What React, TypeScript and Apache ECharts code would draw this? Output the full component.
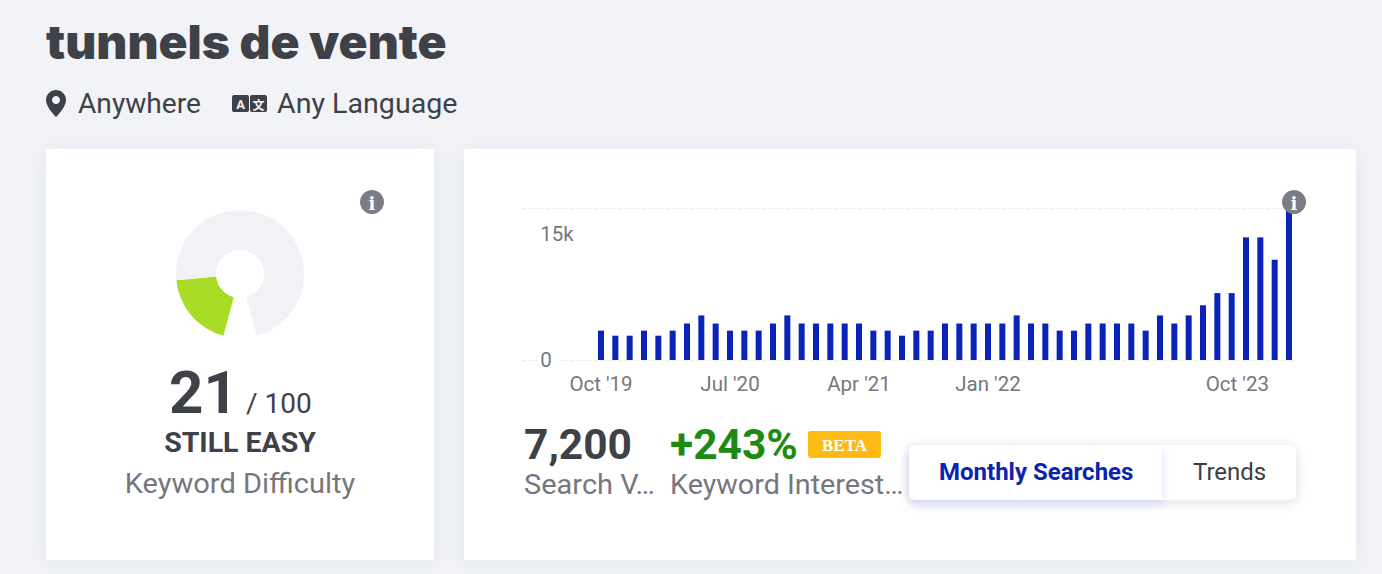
import React, { useEffect, useRef } from "react";
import * as echarts from "echarts";

const months = [
  "Oct '19","Nov '19","Dec '19","Jan '20","Feb '20","Mar '20","Apr '20","May '20","Jun '20","Jul '20","Aug '20","Sep '20",
  "Oct '20","Nov '20","Dec '20","Jan '21","Feb '21","Mar '21","Apr '21","May '21","Jun '21","Jul '21","Aug '21","Sep '21",
  "Oct '21","Nov '21","Dec '21","Jan '22","Feb '22","Mar '22","Apr '22","May '22","Jun '22","Jul '22","Aug '22","Sep '22",
  "Oct '22","Nov '22","Dec '22","Jan '23","Feb '23","Mar '23","Apr '23","May '23","Jun '23","Jul '23","Aug '23","Sep '23",
  "Oct '23",
];
const searches = [
  2900,2400,2400,2900,2400,2900,3600,4400,3600,2900,2900,2900,
  3600,4400,3600,3600,3600,3600,3600,2900,2900,2400,2900,2900,
  3600,3600,3600,3600,3600,4400,3600,3600,2900,2900,3600,3600,
  3600,3600,2900,4400,3600,4400,5400,6600,6600,12100,12100,9900,
  14800,
];
const labelledMonths = ["Oct '19", "Jul '20", "Apr '21", "Jan '22", "Oct '23"];
const leadingBlankBands = 5;
const difficulty = 21;
const difficultyMax = 100;
const DARK = "#3f4148";
const GREY = "#76777d";
const BLUE = "#0a23b9";
const SANS = "Roboto";
const AXIS_FONT = 20.5;

echarts.graphic.registerShape(
  "pinMark",
  echarts.graphic.extendPath(
    "M10 0C4.5 0 0 4.5 0 10C0 17.5 10 27 10 27C10 27 20 17.5 20 10C20 4.5 15.5 0 10 0Z",
    {}
  )
);

const txt = (
  text: string,
  x: number,
  y: number,
  fontSize: number,
  fill: string,
  fontWeight: any = 400,
  textAlign: string = "left",
  fontFamily: string = SANS,
  scaleX: number = 1
) => ({
  type: "text",
  x,
  y,
  scaleX,
  z: 50,
  silent: true,
  style: { text, fontSize, fill, fontWeight, fontFamily, textAlign, textVerticalAlign: "middle", verticalAlign: "middle" },
});

const infoIcon = (x: number, y: number) => [
  { type: "circle", z: 60, silent: true, shape: { cx: x, cy: y, r: 12 }, style: { fill: "#7b7c84" } },
  { ...txt("i", x, y + 1, 18, "#ffffff", 700, "center", "DejaVu Serif"), z: 61 },
];

const card = (x: number, y: number, width: number, height: number) => ({
  type: "rect",
  z: -10,
  silent: true,
  shape: { x, y, width, height },
  style: { fill: "#ffffff", shadowBlur: 24, shadowColor: "rgba(60,70,110,0.06)", shadowOffsetY: 3 },
});

export default function App() {
  const ref = useRef<HTMLDivElement>(null);
  useEffect(() => {
    const chart = echarts.init(ref.current!, null, { renderer: "svg" });
    const blanks = Array.from({ length: leadingBlankBands }, () => "");
    const gap = (difficultyMax * 30) / 330;
    chart.setOption({
      animation: false,
      backgroundColor: "#f1f3f7",
      grid: { left: 522.17, top: 208, width: 774, height: 152, containLabel: false },
      xAxis: {
        type: "category",
        data: [
          ...blanks,
          ...months.map((m, i) =>
            i === months.length - 1
              ? { value: m, textStyle: { align: "right", padding: [0, 20, 0, 0] } }
              : m
          ),
        ],
        axisLine: { show: false },
        axisTick: { show: false },
        axisLabel: {
          interval: (_: number, v: string) => labelledMonths.includes(v),
          margin: 13,
          fontSize: AXIS_FONT,
          color: GREY,
          fontFamily: SANS,
        },
      },
      yAxis: {
        type: "value",
        min: 0,
        max: 15000,
        interval: 15000,
        axisLine: { show: false },
        axisTick: { show: false },
        splitLine: { lineStyle: { color: "#eeeff1", type: "dashed", width: 1 } },
        axisLabel: {
          inside: true,
          margin: 18,
          color: GREY,
          fontSize: AXIS_FONT,
          fontFamily: SANS,
          align: "left",
          formatter: (v: number) => (v === 15000 ? "{top|15k}" : "{zero|0}"),
          rich: {
            top: { padding: [52, 0, 0, 0], fontSize: AXIS_FONT, color: GREY, fontFamily: SANS },
            zero: { fontSize: AXIS_FONT, color: GREY, fontFamily: SANS, backgroundColor: "#ffffff", padding: [0, 4, 0, 0] },
          },
        },
      },
      series: [
        {
          type: "bar",
          data: [...blanks.map(() => null), ...searches],
          barWidth: 6,
          itemStyle: { color: BLUE },
          silent: true,
          z: 5,
        },
        {
          type: "pie",
          silent: true,
          center: [240, 274],
          radius: [24, 64],
          startAngle: -105,
          clockwise: true,
          label: { show: false },
          labelLine: { show: false },
          data: [
            { value: difficulty, name: "Difficulty", itemStyle: { color: "#a9dc26" } },
            { value: difficultyMax - difficulty, name: "Remaining", itemStyle: { color: "#f0f2f5" } },
            { value: gap, name: "Gap", itemStyle: { color: "rgba(0,0,0,0)" } },
          ],
        },
      ],
      graphic: {
        elements: [
          card(46, 149, 388, 411),
          card(464, 149, 892, 411),
          txt("tunnels de vente", 46, 42, 47, DARK, 900, "left", "Inter", 1.02),
          { type: "pinMark", x: 46, y: 90, scaleX: 1, scaleY: 1, z: 50, silent: true, style: { fill: DARK } },
          { type: "circle", z: 51, silent: true, shape: { cx: 56, cy: 100, r: 4 }, style: { fill: "#f1f3f7" } },
          txt("Anywhere", 78, 104, 27, DARK, 400, "left", SANS, 1.042),
          { type: "rect", z: 50, silent: true, shape: { x: 232, y: 95, width: 17, height: 17, r: 2 }, style: { fill: DARK } },
          { type: "rect", z: 50, silent: true, shape: { x: 250, y: 95, width: 17, height: 17, r: 2 }, style: { fill: DARK } },
          { ...txt("A", 240.5, 104, 13, "#f1f3f7", 700, "center"), z: 51 },
          { ...txt("文", 258.5, 104, 12, "#f1f3f7", 700, "center", "Noto Sans CJK SC"), z: 51 },
          txt("Any Language", 277, 104, 27, DARK, 400, "left", SANS, 1.06),
          ...infoIcon(372, 202),
          ...infoIcon(1294, 202),
          txt("21", 169, 392, 60, DARK, 700),
          txt("/ 100", 246, 403, 28, DARK),
          txt("STILL EASY", 240, 443, 27, DARK, 700, "center", SANS, 1.055),
          txt("Keyword Difficulty", 240, 484, 27, GREY, 400, "center", SANS, 1.075),
          txt("7,200", 524, 444, 42.5, DARK, 700),
          txt("+243%", 670, 444, 42.5, "#1f8a12", 700),
          { type: "rect", z: 50, silent: true, shape: { x: 808, y: 431, width: 73, height: 27, r: 3 }, style: { fill: "#fdbb14" } },
          { ...txt("BETA", 844.5, 445, 17, "#ffffff", 700, "center", "Liberation Serif"), z: 51 },
          txt("Search V…", 524, 485, 27, GREY, 400, "left", SANS, 1.074),
          txt("Keyword Interest…", 670, 485, 27, GREY, 400, "left", SANS, 1.064),
          {
            type: "rect", z: 40, silent: true,
            shape: { x: 909, y: 445, width: 387, height: 55, r: 6 },
            style: { fill: "#ffffff", shadowBlur: 12, shadowColor: "rgba(40,40,60,0.14)", shadowOffsetY: 2 },
          },
          {
            type: "rect", z: 41, silent: true,
            shape: { x: 909, y: 445, width: 253, height: 55, r: [6, 0, 0, 6] },
            style: { fill: "#ffffff", shadowBlur: 10, shadowColor: "rgba(30,50,220,0.12)", shadowOffsetY: 4 },
          },
          txt("Monthly Searches", 939, 472, 24, "#0b24ad", 700),
          txt("Trends", 1193, 472, 24, "#3b3d43"),
        ],
      },
    });
    return () => chart.dispose();
  }, []);
  return <div ref={ref} style={{ position: "absolute", left: 0, top: 0, width: 1382, height: 574 }} />;
}
